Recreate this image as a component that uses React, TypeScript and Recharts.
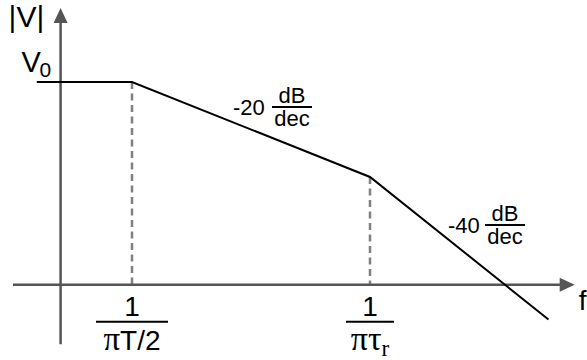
import React from 'react';
import { ComposedChart, Line, XAxis, YAxis, ReferenceLine, ReferenceDot } from 'recharts';

// frequency in decades relative to the first corner 1/(πT/2)
const decades = [-0.4, 0, 1, 1.75];
// magnitude in dB relative to V0
const gainDb = [0, 0, -20, -50];

// the two corner frequencies and the asymptote level at each
const cornerDecades = [0, 1];
const cornerGain = [0, -20];

// where the two drawn axes sit and how far they reach
const freqAxisGain = -42.7;
const freqAxisRange = [-0.5, 1.86];
const magAxisDecade = -0.3;
const magAxisRange = [-55.2, 15.6];

// slope annotations: text and the point on each asymptote they hang from
const slopeTexts = ['-20', '-40'];
const slopeAnchors = [
  { x: 0.5, y: -10 },
  { x: 1.5, y: -40 },
];

const xDomain = [-0.5546, 1.9118];
const yDomain = [-58.53, 17.26];

const chartData = decades.map((d, i) => ({ d, g: gainDb[i] }));

const SANS = '"Liberation Sans", Arial, Helvetica, sans-serif';
const SERIF = '"Liberation Serif", "Times New Roman", serif';
const AXIS = '#555';

// axis line drawn with a filled arrowhead at its far end
const ArrowLine = (props: any) => {
  const { x1, y1, x2, y2 } = props;
  const len = Math.hypot(x2 - x1, y2 - y1);
  const ux = (x2 - x1) / len;
  const uy = (y2 - y1) / len;
  const head = 15;
  const half = 7;
  const bx = x2 - ux * head;
  const by = y2 - uy * head;
  const pts = [
    `${x2},${y2}`,
    `${bx - uy * half},${by + ux * half}`,
    `${bx + uy * half},${by - ux * half}`,
  ].join(' ');
  return (
    <g>
      <line x1={x1} y1={y1} x2={bx + ux * 2} y2={by + uy * 2} stroke={AXIS} strokeWidth={2.5} />
      <polygon points={pts} fill={AXIS} />
    </g>
  );
};

const Fraction = ({ cx, lineY, half, num, den, size }: any) => (
  <g fontFamily={SANS} fill="#000">
    <text x={cx} y={lineY - 4} textAnchor="middle" fontSize={size}>{num}</text>
    <line x1={cx - half} y1={lineY} x2={cx + half} y2={lineY} stroke="#000" strokeWidth={2} />
    <text x={cx} y={lineY + 19} textAnchor="middle" fontSize={size}>{den}</text>
  </g>
);

// pixel offsets of the "-N" text and the dB/dec fraction from each anchor
const slopeOffsets = [
  { tx: -18, ty: -14.5, fx: 41, fy: -22.5 },
  { tx: -41, ty: -39, fx: 16, fy: -47 },
];

const SlopeLabel = (value: string, o: any) => (props: any) => {
  const { cx, cy } = props;
  return (
    <g>
      <text x={cx + o.tx} y={cy + o.ty} fontFamily={SANS} fontSize={22} fill="#000">{value}</text>
      <Fraction cx={cx + o.fx} lineY={cy + o.fy} half={20} num="dB" den="dec" size={22} />
    </g>
  );
};

const TickFraction = (den: React.ReactNode, half: number) => (props: any) => {
  const { cx, cy } = props;
  return (
    <g fill="#000">
      <text x={cx} y={cy + 31} textAnchor="middle" fontFamily={SANS} fontSize={28}>1</text>
      <line x1={cx - half} y1={cy + 37} x2={cx + half} y2={cy + 37} stroke="#000" strokeWidth={2} />
      <text x={cx} y={cy + 65} textAnchor="middle" fontSize={28}>{den}</text>
    </g>
  );
};

const tickDens = [
  <>
    <tspan fontFamily={SERIF} fontSize={33}>π</tspan>
    <tspan fontFamily={SANS}>T/2</tspan>
  </>,
  <>
    <tspan fontFamily={SERIF} fontSize={34}>πτ</tspan>
    <tspan fontFamily={SERIF} fontSize={23} dy={6}>r</tspan>
  </>,
];
const tickHalf = [36, 24];

const MagLabel = (props: any) => {
  const { cx, cy } = props;
  return (
    <text x={cx - 52} y={cy + 19} fontFamily={SANS} fontSize={30} fill="#000">|V|</text>
  );
};

const V0Label = (props: any) => {
  const { cx, cy } = props;
  return (
    <g>
      <text x={cx - 39} y={cy - 10} fontFamily={SANS} fontSize={29} fill="#000">V</text>
      <text x={cx - 21} y={cy - 5} fontFamily={SANS} fontSize={21} fill="#000">0</text>
    </g>
  );
};

const FreqLabel = (props: any) => {
  const { cx, cy } = props;
  return (
    <text x={cx + 4} y={cy + 25} fontFamily={SANS} fontSize={28} fill="#000">f</text>
  );
};

export default function App() {
  return (
    <div style={{ width: 587, height: 360, background: '#fff' }}>
      <style>{'body{margin:0}'}</style>
      <ComposedChart width={587} height={360} data={chartData} margin={{ top: 0, right: 0, bottom: 0, left: 0 }}>
        <XAxis type="number" dataKey="d" domain={xDomain} height={0} hide />
        <YAxis type="number" domain={yDomain} width={0} hide />

        {cornerDecades.map((c, i) => (
          <ReferenceLine
            key={`corner-${i}`}
            segment={[{ x: c, y: cornerGain[i] }, { x: c, y: freqAxisGain }]}
            stroke="#808080"
            strokeWidth={2.5}
            strokeDasharray="7 4.5"
          />
        ))}

        <ReferenceLine
          segment={[{ x: freqAxisRange[0], y: freqAxisGain }, { x: freqAxisRange[1], y: freqAxisGain }]}
          shape={ArrowLine}
        />
        <ReferenceLine
          segment={[{ x: magAxisDecade, y: magAxisRange[0] }, { x: magAxisDecade, y: magAxisRange[1] }]}
          shape={ArrowLine}
        />

        <Line
          type="linear"
          dataKey="g"
          stroke="#000"
          strokeWidth={2}
          dot={false}
          activeDot={false}
          isAnimationActive={false}
        />

        <ReferenceDot x={magAxisDecade} y={magAxisRange[1]} r={0} shape={MagLabel} />
        <ReferenceDot x={magAxisDecade} y={0} r={0} shape={V0Label} />
        <ReferenceDot x={freqAxisRange[1]} y={freqAxisGain} r={0} shape={FreqLabel} />
        {slopeTexts.map((t, i) => (
          <ReferenceDot
            key={`slope-${i}`}
            x={slopeAnchors[i].x}
            y={slopeAnchors[i].y}
            r={0}
            shape={SlopeLabel(t, slopeOffsets[i])}
          />
        ))}
        {cornerDecades.map((c, i) => (
          <ReferenceDot key={`tick-${i}`} x={c} y={freqAxisGain} r={0} shape={TickFraction(tickDens[i], tickHalf[i])} />
        ))}
      </ComposedChart>
    </div>
  );
}
